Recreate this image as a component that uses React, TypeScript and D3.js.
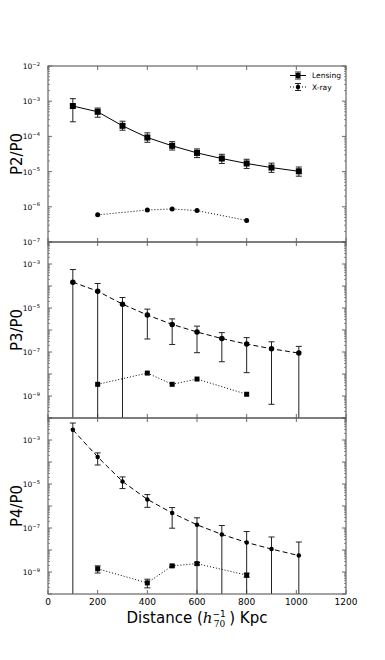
import * as d3 from "d3";

const W = 385;
const H = 660;

const xTicks = [0, 200, 400, 600, 800, 1000, 1200];
const lensX = [100, 200, 300, 400, 500, 600, 700, 800, 900, 1010];
const xrayX = [200, 400, 500, 600, 800];

// P2/P0
const p2Lens = [7.3e-4, 5.0e-4, 2.0e-4, 9.3e-5, 5.4e-5, 3.4e-5, 2.35e-5, 1.7e-5, 1.3e-5, 1.02e-5];
const p2LensHi = [1.18e-3, 6.4e-4, 2.7e-4, 1.26e-4, 7.1e-5, 4.4e-5, 3.1e-5, 2.24e-5, 1.74e-5, 1.35e-5];
const p2LensLo = [2.6e-4, 3.5e-4, 1.5e-4, 6.8e-5, 4.1e-5, 2.5e-5, 1.7e-5, 1.23e-5, 9.5e-6, 7.4e-6];
const p2Xray = [5.9e-7, 8.1e-7, 8.7e-7, 7.8e-7, 4.1e-7];

// P3/P0  (0 = error bar runs off the bottom of the axis)
const p3Lens = [1.5e-4, 5.8e-5, 1.5e-5, 4.8e-6, 1.8e-6, 8.1e-7, 4.1e-7, 2.3e-7, 1.4e-7, 8.9e-8];
const p3LensHi = [5.6e-4, 1.3e-4, 3.0e-5, 8.9e-6, 3.2e-6, 1.5e-6, 7.6e-7, 4.5e-7, 2.9e-7, 1.8e-7];
const p3LensLo = [0, 0, 0, 3.9e-7, 2.2e-7, 9.3e-8, 3.6e-8, 1.15e-8, 4.2e-10, 0];
const p3Xray = [3.4e-9, 1.1e-8, 3.4e-9, 5.9e-9, 1.2e-9];

// P4/P0
const p4Lens = [2.9e-3, 1.7e-4, 1.3e-5, 2.0e-6, 4.8e-7, 1.4e-7, 5.1e-8, 2.2e-8, 1.1e-8, 5.6e-9];
const p4LensHi = [5.9e-3, 2.6e-4, 2.1e-5, 3.3e-6, 8.5e-7, 2.9e-7, 1.3e-7, 6.9e-8, 3.9e-8, 2.3e-8];
const p4LensLo = [0, 7.3e-5, 6.2e-6, 8.7e-7, 9.8e-8, 0, 0, 0, 0, 0];
const p4Xray = [1.4e-9, 3.2e-10, 1.9e-9, 2.4e-9, 7.2e-10];
const p4XrayHi = [1.9e-9, 4.7e-10, 2.1e-9, 2.7e-9, 8.8e-10];
const p4XrayLo = [9.0e-10, 1.9e-10, 1.7e-9, 2.1e-9, 5.8e-10];

const left = 48;
const right = 346;
const top = 66;
const ph = 176;
const font = "DejaVu Sans, sans-serif";
const spine = "#666";

const x = d3.scaleLinear().domain([0, 1200]).range([left, right]);

type Panel = {
  label: string;
  domain: [number, number];
  oddOnly: boolean;
  lens: number[];
  lensHi: number[];
  lensLo: number[];
  xray: number[];
  xrayHi?: number[];
  xrayLo?: number[];
  lensDash: string;
  lensMarker: "square" | "circle";
  xrayMarker: "square" | "circle";
};

const panels: Panel[] = [
  { label: "P2/P0", domain: [1e-7, 1e-2], oddOnly: false, lens: p2Lens, lensHi: p2LensHi, lensLo: p2LensLo, xray: p2Xray, lensDash: "none", lensMarker: "square", xrayMarker: "circle" },
  { label: "P3/P0", domain: [1e-10, 1e-2], oddOnly: true, lens: p3Lens, lensHi: p3LensHi, lensLo: p3LensLo, xray: p3Xray, lensDash: "5,3", lensMarker: "circle", xrayMarker: "square" },
  { label: "P4/P0", domain: [1e-10, 1e-2], oddOnly: true, lens: p4Lens, lensHi: p4LensHi, lensLo: p4LensLo, xray: p4Xray, xrayHi: p4XrayHi, xrayLo: p4XrayLo, lensDash: "5,3", lensMarker: "circle", xrayMarker: "square" },
];

const Marker = ({ kind, cx, cy, s }: { kind: string; cx: number; cy: number; s: number }) =>
  kind === "square" ? (
    <rect x={cx - s / 2} y={cy - s / 2} width={s} height={s} fill="#000" />
  ) : (
    <circle cx={cx} cy={cy} r={s / 2} fill="#000" />
  );

const ErrBar = ({ cx, y0, y1, cap0, cap1 }: { cx: number; y0: number; y1: number; cap0: boolean; cap1: boolean }) => (
  <g stroke="#222" strokeWidth={1}>
    <line x1={cx} x2={cx} y1={y0} y2={y1} />
    {cap0 && <line x1={cx - 3} x2={cx + 3} y1={y0} y2={y0} />}
    {cap1 && <line x1={cx - 3} x2={cx + 3} y1={y1} y2={y1} />}
  </g>
);

const PanelView = ({ p, i }: { p: Panel; i: number }) => {
  const y0 = top + i * ph;
  const y = d3.scaleLog().domain(p.domain).range([y0 + ph, y0]).clamp(true);
  const [e0, e1] = p.domain.map((d) => Math.round(Math.log10(d)));
  const decades = d3.range(e0, e1 + 1);
  const minors: number[] = [];
  decades.slice(0, -1).forEach((e) => {
    for (let k = 2; k < 10; k++) minors.push(k * Math.pow(10, e));
  });
  const lensLine = d3.line<number>().x((_, j) => x(lensX[j])).y((d) => y(d));
  const xrayLine = d3.line<number>().x((_, j) => x(xrayX[j])).y((d) => y(d));
  const lensSize = i === 0 ? 6 : i === 1 ? 5.5 : 4.5;
  const xraySize = 5;

  return (
    <g>
      {/* log ticks, both sides, inward */}
      {decades.map((e) => (
        <g key={"d" + e} stroke="#444" strokeWidth={0.8}>
          <line x1={left} x2={left + 4} y1={y(Math.pow(10, e))} y2={y(Math.pow(10, e))} />
          <line x1={right} x2={right - 4} y1={y(Math.pow(10, e))} y2={y(Math.pow(10, e))} />
        </g>
      ))}
      {minors.map((v, k) => (
        <g key={"m" + k} stroke="#444" strokeWidth={0.6}>
          <line x1={left} x2={left + 2} y1={y(v)} y2={y(v)} />
          <line x1={right} x2={right - 2} y1={y(v)} y2={y(v)} />
        </g>
      ))}
      {decades
        .filter((e) => !p.oddOnly || Math.abs(e) % 2 === 1)
        .map((e) => (
          <text key={"l" + e} x={left - 8} y={y(Math.pow(10, e)) + 3} textAnchor="end" fontFamily={font} fontSize={7.5} fill="#000">
            10
            <tspan fontSize={5.2} dy={-3.5}>
              {e < 0 ? "\u2212" + -e : e}
            </tspan>
          </text>
        ))}
      {/* x ticks top/bottom, inward */}
      {xTicks.map((t) => (
        <g key={"x" + t} stroke="#444" strokeWidth={0.8}>
          <line x1={x(t)} x2={x(t)} y1={y0 + ph} y2={y0 + ph - 4} />
          <line x1={x(t)} x2={x(t)} y1={y0} y2={y0 + 4} />
        </g>
      ))}
      <text transform={`translate(17,${y0 + ph / 2}) rotate(-90)`} textAnchor="middle" dominantBaseline="central" fontFamily={font} fontSize={15}>
        {p.label}
      </text>

      {/* lensing */}
      {p.lens.map((v, j) => {
        const lo = p.lensLo[j];
        return (
          <ErrBar key={"le" + j} cx={x(lensX[j])} y0={y(p.lensHi[j])} y1={lo > 0 ? y(lo) : y0 + ph} cap0 cap1={lo > 0} />
        );
      })}
      <path d={lensLine(p.lens) || ""} fill="none" stroke="#000" strokeWidth={1} strokeDasharray={p.lensDash} />
      {p.lens.map((v, j) => (
        <Marker key={"lm" + j} kind={p.lensMarker} cx={x(lensX[j])} cy={y(v)} s={lensSize} />
      ))}

      {/* x-ray */}
      {p.xrayHi &&
        p.xray.map((v, j) => (
          <ErrBar key={"xe" + j} cx={x(xrayX[j])} y0={y(p.xrayHi![j])} y1={y(p.xrayLo![j])} cap0 cap1 />
        ))}
      <path d={xrayLine(p.xray) || ""} fill="none" stroke="#000" strokeWidth={1} strokeDasharray="1,2" />
      {p.xray.map((v, j) => (
        <Marker key={"xm" + j} kind={p.xrayMarker} cx={x(xrayX[j])} cy={y(v)} s={xraySize} />
      ))}

      <rect x={left} y={y0} width={right - left} height={ph} fill="none" stroke={spine} strokeWidth={1.2} />
    </g>
  );
};

export default function App() {
  const bottom = top + ph * panels.length;
  const ly = 75.5;
  return (
    <svg width={W} height={H} style={{ position: "absolute", left: 0, top: 0, background: "#fff" }}>
      {panels.map((p, i) => (
        <PanelView key={p.label} p={p} i={i} />
      ))}
      {xTicks.map((t) => (
        <text key={t} x={x(t)} y={bottom + 11} textAnchor="middle" fontFamily={font} fontSize={9}>
          {t}
        </text>
      ))}
      <text x={197} y={bottom + 29} textAnchor="middle" fontFamily={font} fontSize={15}>
        Distance (
        <tspan fontStyle="italic" fontFamily="DejaVu Serif, serif">h</tspan>
        <tspan fontSize={9} dy={-6}>−1</tspan>
        <tspan fontSize={9} dx={-12} dy={10} fontFamily="DejaVu Serif, serif">70</tspan>
        <tspan dy={-4} dx={4}>) Kpc</tspan>
      </text>

      {/* legend */}
      <g>
        <line x1={290} x2={306} y1={ly} y2={ly} stroke="#000" strokeWidth={1} />
        <ErrBar cx={298} y0={ly - 3.5} y1={ly + 3.5} cap0 cap1 />
        <Marker kind="square" cx={298} cy={ly} s={5} />
        <text x={312} y={ly + 2.8} fontFamily={font} fontSize={7.5}>Lensing</text>
        <line x1={290} x2={306} y1={ly + 11.5} y2={ly + 11.5} stroke="#000" strokeWidth={1} strokeDasharray="1,2" />
        <ErrBar cx={298} y0={ly + 8} y1={ly + 15} cap0 cap1 />
        <Marker kind="circle" cx={298} cy={ly + 11.5} s={4.5} />
        <text x={312} y={ly + 14.3} fontFamily={font} fontSize={7.5}>X-ray</text>
      </g>
    </svg>
  );
}
